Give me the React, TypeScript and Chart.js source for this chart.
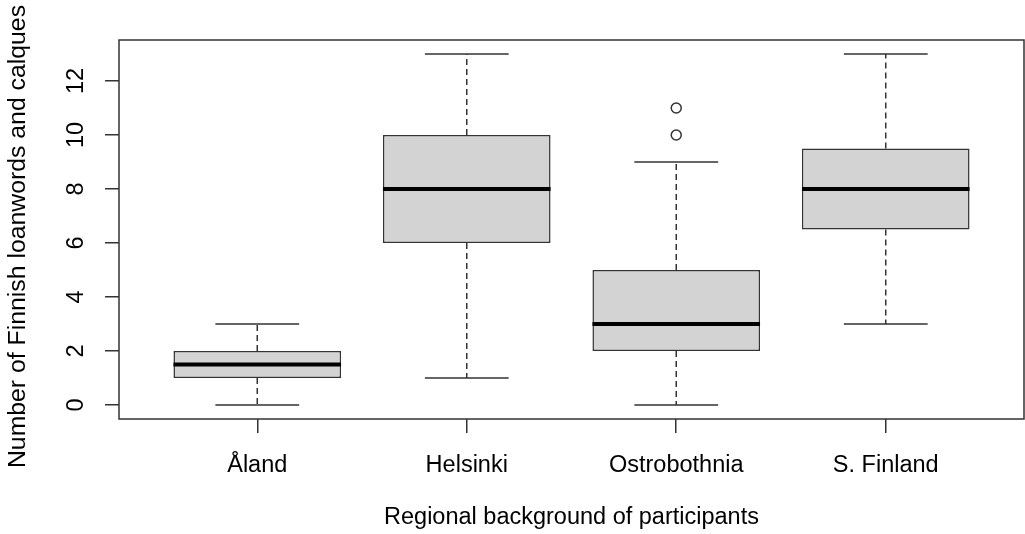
import React, { useEffect, useRef } from "react";
import { Chart, registerables } from "chart.js";

Chart.register(...registerables);

const categories = ["Åland", "Helsinki", "Ostrobothnia", "S. Finland"];
const lowerWhisker = [0, 1, 0, 3];
const q1 = [1, 6, 2, 6.5];
const median = [1.5, 8, 3, 8];
const q3 = [2, 10, 5, 9.5];
const upperWhisker = [3, 13, 9, 13];
const outliers = [
  { group: 3, value: 10 },
  { group: 3, value: 11 },
];
const yTicks = [0, 2, 4, 6, 8, 10, 12];
const yTitle = "Number of Finnish loanwords and calques";
const xTitle = "Regional background of participants";

const FONT = '"Liberation Sans", Arial, Helvetica, sans-serif';
const STROKE = "#333333";

const boxPlugin = {
  id: "rBoxplot",
  beforeDatasetsDraw(chart: any) {
    const ctx = chart.ctx;
    const xs = chart.scales.x;
    const ys = chart.scales.y;
    const meta = chart.getDatasetMeta(0);
    ctx.save();
    ctx.strokeStyle = STROKE;
    ctx.lineWidth = 1.5;
    categories.forEach((_, i) => {
      const x = xs.getPixelForValue(i + 1);
      const w = meta.data[i] ? meta.data[i].width : 160;
      ctx.setLineDash([6, 4]);
      ctx.beginPath();
      ctx.moveTo(x, ys.getPixelForValue(q3[i]));
      ctx.lineTo(x, ys.getPixelForValue(upperWhisker[i]));
      ctx.moveTo(x, ys.getPixelForValue(q1[i]));
      ctx.lineTo(x, ys.getPixelForValue(lowerWhisker[i]));
      ctx.stroke();
      ctx.setLineDash([]);
      ctx.beginPath();
      const hs = w / 4;
      ctx.moveTo(x - hs, ys.getPixelForValue(upperWhisker[i]));
      ctx.lineTo(x + hs, ys.getPixelForValue(upperWhisker[i]));
      ctx.moveTo(x - hs, ys.getPixelForValue(lowerWhisker[i]));
      ctx.lineTo(x + hs, ys.getPixelForValue(lowerWhisker[i]));
      ctx.stroke();
    });
    ctx.restore();
  },
  afterDatasetsDraw(chart: any) {
    const ctx = chart.ctx;
    const xs = chart.scales.x;
    const ys = chart.scales.y;
    const meta = chart.getDatasetMeta(0);
    ctx.save();
    ctx.strokeStyle = "#000000";
    ctx.lineWidth = 4;
    ctx.lineCap = "butt";
    categories.forEach((_, i) => {
      const x = xs.getPixelForValue(i + 1);
      const w = meta.data[i] ? meta.data[i].width : 160;
      const y = ys.getPixelForValue(median[i]);
      ctx.beginPath();
      ctx.moveTo(x - w / 2, y);
      ctx.lineTo(x + w / 2, y);
      ctx.stroke();
    });
    const a = chart.chartArea;
    ctx.strokeStyle = STROKE;
    ctx.lineWidth = 1.5;
    ctx.strokeRect(a.left, a.top, a.right - a.left, a.bottom - a.top);
    ctx.fillStyle = "#000";
    ctx.font = `24.8px ${FONT}`;
    ctx.textAlign = "center";
    ctx.textBaseline = "middle";
    ctx.translate(18, 236.5);
    ctx.rotate(-Math.PI / 2);
    ctx.fillText(yTitle, 0, 0);
    ctx.restore();
  },
};

export default function App() {
  const ref = useRef<HTMLCanvasElement | null>(null);
  useEffect(() => {
    if (!ref.current) return;
    const chart = new Chart(ref.current, {
      type: "bar",
      data: {
        datasets: [
          {
            type: "bar",
            data: categories.map((_, i) => ({ x: i + 1, y: [q1[i], q3[i]] })) as any,
            backgroundColor: "#d3d3d3",
            borderColor: STROKE,
            borderWidth: 1.5,
            borderSkipped: false,
            categoryPercentage: 0.8,
            barPercentage: 1,
          },
          {
            type: "scatter",
            data: outliers.map((o) => ({ x: o.group, y: o.value })) as any,
            pointStyle: "circle",
            pointRadius: 5,
            backgroundColor: "rgba(0,0,0,0)",
            borderColor: STROKE,
            borderWidth: 1.5,
          } as any,
        ],
      },
      options: {
        responsive: false,
        animation: false,
        devicePixelRatio: 1,
        layout: { autoPadding: false, padding: { top: 40, right: 1, left: 0, bottom: 0 } },
        plugins: { legend: { display: false }, tooltip: { enabled: false } },
        scales: {
          x: {
            type: "linear",
            min: 0.34,
            max: 4.66,
            offset: false,
            afterBuildTicks: (s: any) => {
              s.ticks = categories.map((_, i) => ({ value: i + 1 }));
            },
            afterFit: (s: any) => {
              s.height = 115;
              s.paddingLeft = 0;
              s.paddingRight = 0;
            },
            ticks: {
              callback: (v: any) => categories[Number(v) - 1] ?? "",
              color: "#000",
              font: { family: FONT, size: 23.5 },
              padding: 18,
              maxRotation: 0,
              autoSkip: false,
            },
            grid: {
              offset: false,
              drawOnChartArea: false,
              drawTicks: true,
              tickLength: 14,
              color: STROKE,
              lineWidth: 1.5,
            },
            border: { display: false },
            title: {
              display: true,
              text: xTitle,
              color: "#000",
              font: { family: FONT, size: 23.5 },
              padding: { top: 0, bottom: 2 },
            },
          },
          y: {
            type: "linear",
            min: -0.52,
            max: 13.52,
            afterBuildTicks: (s: any) => {
              s.ticks = yTicks.map((v) => ({ value: v }));
            },
            afterFit: (s: any) => {
              s.width = 119;
            },
            ticks: {
              color: "#000",
              font: { family: FONT, size: 23.5 },
              padding: 15,
              minRotation: 90,
              maxRotation: 90,
              crossAlign: "center",
              autoSkip: false,
            },
            grid: {
              drawOnChartArea: false,
              drawTicks: true,
              tickLength: 14,
              color: STROKE,
              lineWidth: 1.5,
            },
            border: { display: false },
            title: { display: false },
          },
        },
      } as any,
      plugins: [boxPlugin],
    });
    return () => chart.destroy();
  }, []);
  return (
    <canvas
      ref={ref}
      width={1025}
      height={534}
      style={{ position: "absolute", left: 0, top: 0, width: 1025, height: 534 }}
    />
  );
}
